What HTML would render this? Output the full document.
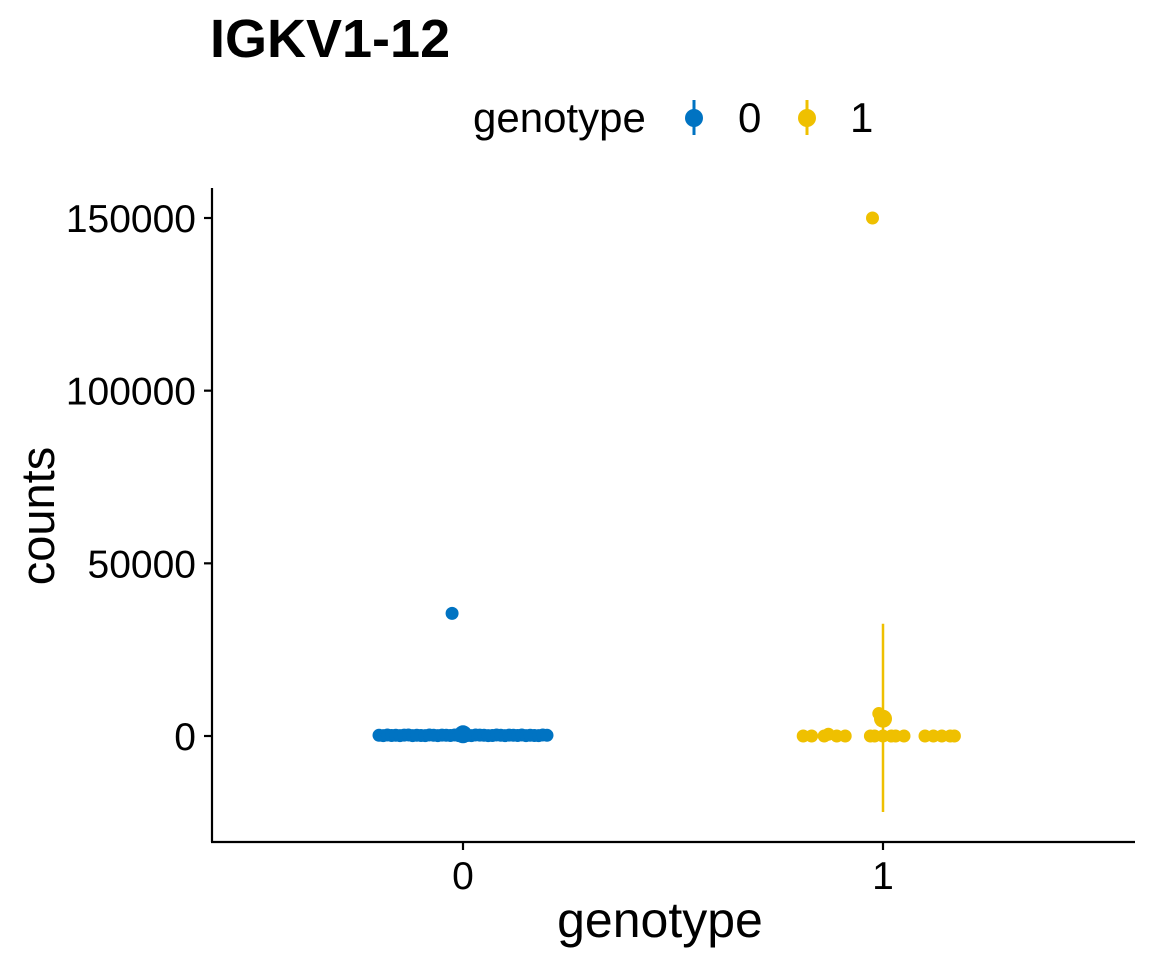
<!DOCTYPE html>
<html><head><meta charset="utf-8"><style>
body{margin:0;background:#fff}
svg{display:block;font-family:"Liberation Sans",Arial,sans-serif}
</style></head><body>
<svg id="c" width="1152" height="960" xmlns="http://www.w3.org/2000/svg">
<text x="210" y="57" font-size="54" font-weight="bold">IGKV1-12</text>
<g>
<text x="473" y="132" font-size="42">genotype</text>
<g><line x1="694" x2="694" y1="100" y2="135" stroke="#0073C2" stroke-width="3"/><circle cx="694" cy="118" r="9" fill="#0073C2"/><text x="738" y="132" font-size="42">0</text></g>
<g><line x1="807" x2="807" y1="100" y2="135" stroke="#EFC000" stroke-width="3"/><circle cx="807" cy="118" r="9" fill="#EFC000"/><text x="850" y="132" font-size="42">1</text></g>
</g>
<g id="axes"></g>
<g id="marks"></g>
<text x="660" y="937" font-size="50" text-anchor="middle">genotype</text>
<text transform="translate(54,516) rotate(-90)" font-size="47" text-anchor="middle">counts</text>
</svg>
<script>
const categories=["0","1"];
const colors=["#0073C2","#EFC000"];
const yTicks=[0,50000,100000,150000];
const g0Jitter=[-0.2,-0.19,-0.18,-0.17,-0.16,-0.15,-0.14,-0.13,-0.12,-0.11,-0.1,-0.09,-0.08,-0.07,-0.06,-0.05,-0.04,-0.03,-0.02,-0.01,0,0.01,0.02,0.03,0.04,0.05,0.06,0.07,0.08,0.09,0.1,0.11,0.12,0.13,0.14,0.15,0.16,0.17,0.18,0.19,0.2,-0.026];
const g0Counts=[200,100,300,150,200,100,250,300,100,200,150,100,300,200,100,250,200,150,300,100,200,150,100,300,250,200,100,150,300,200,100,250,200,150,300,100,200,150,100,300,200,35500];
const g1Jitter=[-0.19,-0.17,-0.14,-0.13,-0.11,-0.09,-0.03,-0.02,0,0.02,0.03,0.05,0.1,0.12,0.14,0.16,0.17,-0.01,0.005,-0.025];
const g1Counts=[0,0,0,500,0,0,0,0,0,0,0,0,0,0,0,0,0,6500,5000,150000];
const means=[500,5000];
const errLow=[-1000,-22000];
const errHigh=[2000,32500];
const X0=212,X1=1135,Y0=188,Y1=842;
const xs=i=>463+i*420;
const ys=v=>736-v*(518/150000);
const NS="http://www.w3.org/2000/svg";
function mk(t,a,p){const e=document.createElementNS(NS,t);for(const k in a)e.setAttribute(k,a[k]);p.appendChild(e);return e;}
const ax=document.getElementById('axes'),mg=document.getElementById('marks');
let l=mk('line',{x1:X0,x2:X0,y1:Y0,y2:Y1,stroke:'#000','stroke-width':2.2},ax);


l=mk('line',{x1:X0-1,x2:X1,y1:Y1,y2:Y1,stroke:'#000','stroke-width':2.2},ax);


yTicks.forEach(v=>{const y=ys(v);
 mk('line',{x1:X0-8,x2:X0,y1:y,y2:y,stroke:'#000','stroke-width':2.2},ax);
 const t=mk('text',{x:X0-16,y:y+14,'font-size':39,'text-anchor':'end'},ax);t.textContent=v;
 
 });
categories.forEach((c,i)=>{const x=xs(i);
 mk('line',{x1:x,x2:x,y1:Y1,y2:Y1+8,stroke:'#000','stroke-width':2.2},ax);
 const t=mk('text',{x:x,y:Y1+47,'font-size':39,'text-anchor':'middle'},ax);t.textContent=c;
 
 });
[[g0Jitter,g0Counts],[g1Jitter,g1Counts]].forEach(([j,v],g)=>{
 v.forEach((val,k)=>{const p=mk('circle',{cx:xs(g+j[k]),cy:ys(val),r:6.5,fill:colors[g]},mg);
  
  });
 const e=mk('line',{x1:xs(g),x2:xs(g),y1:ys(errLow[g]),y2:ys(errHigh[g]),stroke:colors[g],'stroke-width':2.5},mg);
 
 
 const m=mk('circle',{cx:xs(g),cy:ys(means[g]),r:9,fill:colors[g]},mg);
 
 
});
</script>
</body></html>
